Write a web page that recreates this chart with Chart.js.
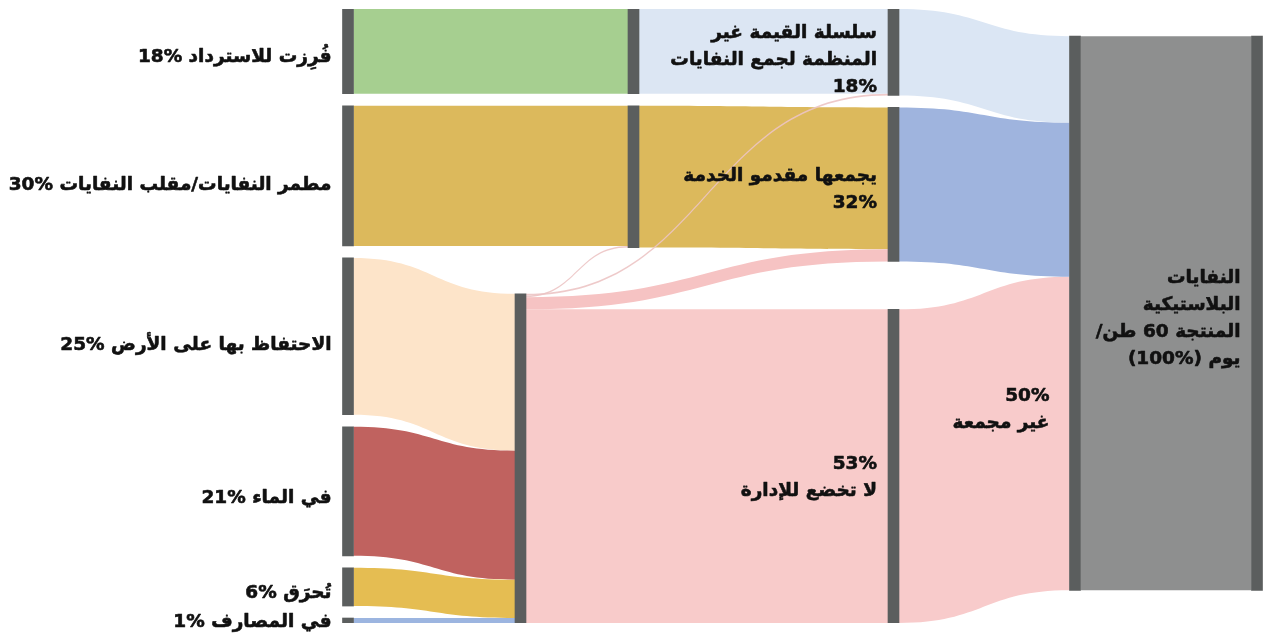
<!DOCTYPE html>
<html>
<head>
<meta charset="utf-8">
<script src="https://cdn.jsdelivr.net/npm/chart.js@4.4.0/dist/chart.umd.min.js"></script>
<style>
  html, body { margin: 0; padding: 0; background: #fff; }
  #wrap { width: 1263px; height: 639px; }
</style>
</head>
<body>
<div id="wrap"><canvas id="sankey" width="1263" height="639"></canvas></div>
<script>
// nodes, read right to left: produced -> collection -> handling -> fate
var nodeKeys = ['source', 'total', 'informal', 'collected', 'uncollected', 'informalSorted', 'collectedSorted',
                'mismanaged', 'recovered', 'landfill', 'land', 'water', 'burned', 'drains'];

// flows (share of the 60 t/day, as drawn)
var flowFrom = ['source', 'total', 'total', 'total', 'informal', 'informal', 'collected', 'collected',
                'uncollected', 'informalSorted', 'collectedSorted', 'collectedSorted',
                'mismanaged', 'mismanaged', 'mismanaged', 'mismanaged'];
var flowTo = ['total', 'informal', 'collected', 'uncollected', 'informalSorted', 'mismanaged', 'collectedSorted', 'mismanaged',
              'mismanaged', 'recovered', 'landfill', 'mismanaged',
              'land', 'water', 'burned', 'drains'];
var flowValues = [100, 15.6, 27.8, 56.6, 15.3, 0.3, 25.6, 2.2,
                  56.6, 15.3, 25.3, 0.3,
                  28.3, 23.3, 6.9, 0.9];

// label texts (\u200E keeps "18%" reading left-to-right inside the Arabic line)
var labelNodes = ['recovered', 'landfill', 'land', 'water', 'burned', 'drains', 'informal', 'collected', 'mismanaged', 'uncollected', 'total'];
var labelLines = [
  ['فُرِزت للاسترداد \u200E18%'],
  ['مطمر النفايات/مقلب النفايات \u200E30%'],
  ['الاحتفاظ بها على الأرض \u200E25%'],
  ['في الماء \u200E21%'],
  ['تُحرَق \u200E6%'],
  ['في المصارف \u200E1%'],
  ['سلسلة القيمة غير', 'المنظمة لجمع النفايات', '\u200E18%'],
  ['يجمعها مقدمو الخدمة', '\u200E32%'],
  ['\u200E53%', 'لا تخضع للإدارة'],
  ['\u200E50%', 'غير مجمعة'],
  ['النفايات', 'البلاستيكية', 'المنتجة 60 طن/', 'يوم (\u200E100%)']
];

// ---- layout / style ----
var columns = [
  { x: 348,    align: 'top',    nodes: ['recovered', 'landfill', 'land', 'water', 'burned', 'drains'] },
  { x: 520.5,  align: 'bottom', nodes: ['mismanaged'] },
  { x: 633.5,  align: 'top',    nodes: ['informalSorted', 'collectedSorted'] },
  { x: 893.5,  align: 'ends',   nodes: ['informal', 'collected', 'uncollected'] },
  { x: 1075,   align: 'center', nodes: ['total'] },
  { x: 1257,   align: 'center', nodes: ['source'] }
];
var nodeGap = 2.16;
var nodeWidth = 11;
var flowColors = ['#8e8f8f', '#dbe6f4', '#9fb4de', '#f8cbcb', '#dce6f3', 'rgba(236,196,196,0.9)', '#dcb95c', '#f6c3c3',
                  '#f8cbca', '#a6cf90', '#dcb95c', 'rgba(236,196,196,0.9)',
                  '#fde4c9', '#c0625f', '#e5bd52', '#9cb5e0'];
// where each label sits: right edge = left edge of `edgeOf` node minus gap, vertical = node centre + dy
var labelPlace = {
  recovered:   { edgeOf: 'recovered',   gap: 11, dy: 6 },
  landfill:    { edgeOf: 'landfill',    gap: 11, dy: 9 },
  land:        { edgeOf: 'land',        gap: 11, dy: 9 },
  water:       { edgeOf: 'water',       gap: 11, dy: 7 },
  burned:      { edgeOf: 'burned',      gap: 11, dy: 6 },
  drains:      { edgeOf: 'drains',      gap: 11, dy: 2 },
  informal:    { edgeOf: 'informal',    gap: 11, dy: 8 },
  collected:   { edgeOf: 'collected',   gap: 11, dy: 5 },
  mismanaged:  { edgeOf: 'uncollected', gap: 11, dy: 19 },
  uncollected: { edgeOf: 'total',       gap: 20, dy: -56 },
  total:       { edgeOf: 'source',      gap: 11, dy: 5 }
};
var lineHeight = 27;
var labelFont = 'bold 18.5px "DejaVu Sans"';

// ---- sankey layout in value units ----
var nodes = {};
nodeKeys.forEach(function (k) { nodes[k] = { key: k, inSum: 0, outSum: 0, ins: [], outs: [] }; });
for (var i = 0; i < flowValues.length; i++) {
  var f = { from: flowFrom[i], to: flowTo[i], value: flowValues[i], color: flowColors[i] };
  nodes[f.from].outSum += f.value; nodes[f.from].outs.push(f);
  nodes[f.to].inSum += f.value; nodes[f.to].ins.push(f);
}
nodeKeys.forEach(function (k) { nodes[k].size = Math.max(nodes[k].inSum, nodes[k].outSum); });

var yMax = 0;
columns.forEach(function (c) {
  var s = 0;
  c.nodes.forEach(function (k) { s += nodes[k].size; });
  c.total = s + (c.nodes.length - 1) * nodeGap;
  yMax = Math.max(yMax, c.total);
});
columns.forEach(function (c) {
  var y = 0;
  if (c.align === 'bottom') y = yMax - c.total;
  if (c.align === 'center') y = (yMax - c.total) / 2 - 0.5;
  c.nodes.forEach(function (k, idx) {
    var n = nodes[k];
    n.x = c.x;
    if (c.align === 'ends' && idx === c.nodes.length - 1) y = yMax - n.size;
    n.y0 = y; n.y1 = y + n.size;
    y = n.y1 + nodeGap;
  });
});
// stack flow ends inside nodes
nodeKeys.forEach(function (k) {
  var n = nodes[k];
  n.outs.sort(function (a, b) { return nodes[a.to].y0 - nodes[b.to].y0; });
  n.ins.sort(function (a, b) { return nodes[a.from].y0 - nodes[b.from].y0 || nodes[b.from].x - nodes[a.from].x; });
  var y = n.y0;
  n.outs.forEach(function (f) { f.sy0 = y; y += f.value; f.sy1 = y; });
  y = n.y0;
  n.ins.forEach(function (f) { f.ty0 = y; y += f.value; f.ty1 = y; });
});
var allFlows = [];
nodeKeys.forEach(function (k) { nodes[k].outs.forEach(function (f) { allFlows.push(f); }); });
// thin links on top
allFlows.sort(function (a, b) { return b.value - a.value; });

var nodeBars = nodeKeys.map(function (k) { return { x: nodes[k].x, y: [nodes[k].y0, nodes[k].y1] }; });

var flowPlugin = {
  id: 'flows',
  beforeDatasetsDraw: function (chart) {
    var ctx = chart.ctx, xs = chart.scales.x, ys = chart.scales.y;
    var half = nodeWidth / 2;
    ctx.save();
    allFlows.forEach(function (f) {
      var x0 = xs.getPixelForValue(nodes[f.from].x) - half;
      var x1 = xs.getPixelForValue(nodes[f.to].x) + half;
      var xm = (x0 + x1) / 2;
      var a0 = ys.getPixelForValue(f.sy0), b0 = ys.getPixelForValue(f.sy1);
      var a1 = ys.getPixelForValue(f.ty0), b1 = ys.getPixelForValue(f.ty1);
      ctx.beginPath();
      ctx.moveTo(x0, a0);
      ctx.bezierCurveTo(xm, a0, xm, a1, x1, a1);
      ctx.lineTo(x1, b1);
      ctx.bezierCurveTo(xm, b1, xm, b0, x0, b0);
      ctx.closePath();
      ctx.fillStyle = f.color;
      ctx.fill();
    });
    ctx.restore();
  },
  afterDatasetsDraw: function (chart) {
    var ctx = chart.ctx, xs = chart.scales.x, ys = chart.scales.y;
    ctx.save();
    ctx.font = labelFont;
    ctx.fillStyle = '#111';
    ctx.strokeStyle = '#111';
    ctx.lineWidth = 0.6;
    ctx.lineJoin = 'round';
    ctx.direction = 'rtl';
    ctx.textAlign = 'right';
    ctx.textBaseline = 'middle';
    labelNodes.forEach(function (k, i) {
      var p = labelPlace[k], n = nodes[k];
      var right = xs.getPixelForValue(nodes[p.edgeOf].x) - nodeWidth / 2 - p.gap;
      var cy = (ys.getPixelForValue(n.y0) + ys.getPixelForValue(n.y1)) / 2 + p.dy;
      var lines = labelLines[i];
      var top = cy - (lines.length - 1) * lineHeight / 2;
      lines.forEach(function (t, j) {
        ctx.fillText(t, right, top + j * lineHeight);
        ctx.strokeText(t, right, top + j * lineHeight);
      });
    });
    ctx.restore();
  }
};

new Chart(document.getElementById('sankey'), {
  type: 'bar',
  data: {
    datasets: [{
      data: nodeBars,
      backgroundColor: '#5b5e5e',
      borderWidth: 0,
      barThickness: nodeWidth
    }]
  },
  options: {
    responsive: false,
    animation: false,
    devicePixelRatio: 1,
    layout: { padding: { top: 9, bottom: 16, left: 0, right: 0 } },
    plugins: { legend: { display: false }, tooltip: { enabled: false } },
    scales: {
      x: { type: 'linear', min: 0, max: 1263, offset: false, display: false },
      y: { type: 'linear', min: 0, max: yMax, reverse: true, display: false }
    }
  },
  plugins: [flowPlugin]
});
</script>
</body>
</html>
